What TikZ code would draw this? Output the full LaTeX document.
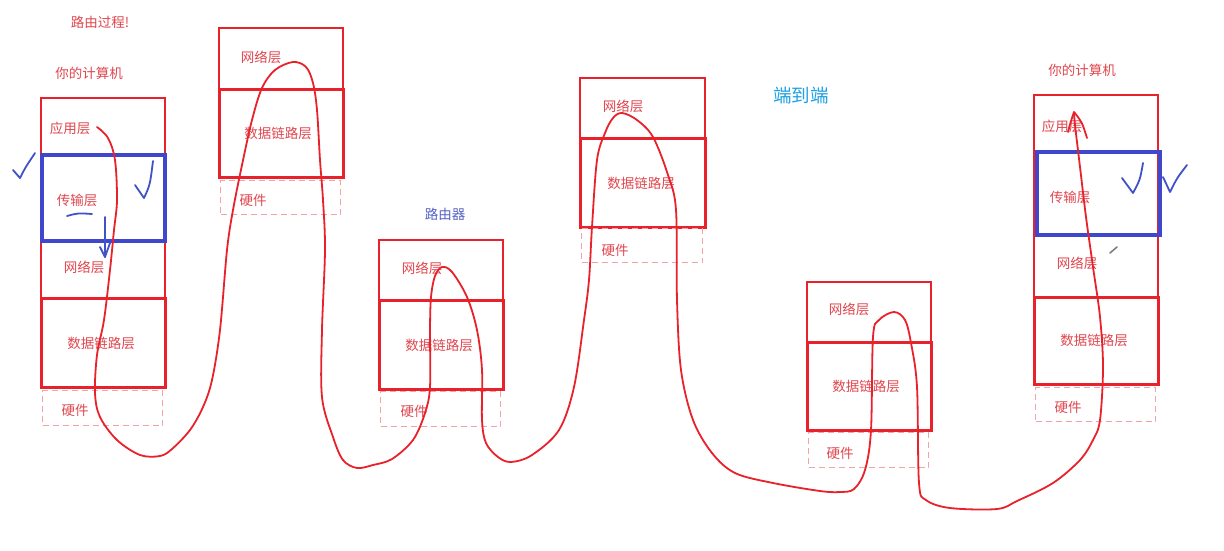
\documentclass[tikz,border=0pt]{standalone}
\usepackage{fontspec}
\newfontfamily\cjk{Noto Sans CJK SC}
\definecolor{boxred}{HTML}{E8212B}
\definecolor{txtred}{HTML}{E0474F}
\definecolor{hwred}{HTML}{F0A3A8}
\definecolor{bluebox}{HTML}{3F48CC}
\definecolor{penblue}{HTML}{4052C8}
\definecolor{routerblue}{HTML}{5563C4}
\definecolor{etoe}{HTML}{1BA1E2}
\begin{document}
\begin{tikzpicture}[x=1pt,y=-1pt,
  lay/.style={draw=boxred, line width=2.2pt, anchor=north west, inner sep=0pt},
  dlbox/.style={lay, line width=3.2pt},
  hwbox/.style={draw=hwred, dash pattern=on 6pt off 4pt, line width=1pt, anchor=north west, inner sep=0pt},
  tbox/.style={draw=bluebox, line width=4pt, anchor=north west, inner sep=0pt},
  lbl/.style={text=txtred, font=\cjk\fontsize{13.5}{14}\selectfont, inner sep=0pt},
  stroke/.style={draw=boxred, line width=1.8pt, line cap=round, line join=round},
  penline/.style={draw=penblue, line width=1.8pt, line cap=round, line join=round}]
\useasboundingbox[fill=white] (0,0) rectangle (1224,550);

% titles
\node[lbl] (title) at (100,22) {路由过程!};
\node[lbl] (pc1) at (89,73) {你的计算机};
\node[lbl] (pc2) at (1082,70) {你的计算机};
\node[text=routerblue, font=\cjk\fontsize{13.5}{14}\selectfont, inner sep=0pt] (rt) at (445,214) {路由器};
\node[text=etoe, font=\cjk\fontsize{18.5}{20}\selectfont, inner sep=0pt] (e2e) at (801,96) {端到端};

% left computer
\node[lay, minimum width=124pt, minimum height=289pt] (c1) at (40,97) {};
\node[dlbox, minimum width=124pt, minimum height=89pt] (c1d) at (40,297) {};
\node[tbox, minimum width=123pt, minimum height=86pt] (c1t) at (40,153) {};
\node[hwbox, minimum width=120pt, minimum height=35pt] (c1h) at (42,390) {};
\node[lbl] (c1a) at (70,128) {应用层};
\node[lbl] (c1tl) at (77,200) {传输层};
\node[lbl] (c1n) at (84,267) {网络层};
\node[lbl] (c1dl) at (101,343) {数据链路层};
\node[lbl] (c1hl) at (75,410) {硬件};

% router A
\node[lay, minimum width=124pt, minimum height=149pt] (ra) at (218,27) {};
\node[dlbox, minimum width=124pt, minimum height=88pt] (rad) at (218,88) {};
\node[hwbox, minimum width=120pt, minimum height=34pt] (rah) at (220,180) {};
\node[lbl] (ran) at (261,57) {网络层};
\node[lbl] (radl) at (278,133) {数据链路层};
\node[lbl] (rahl) at (253,200) {硬件};

% router B
\node[lay, minimum width=124pt, minimum height=149pt] (rb) at (378,239) {};
\node[dlbox, minimum width=124pt, minimum height=89pt] (rbd) at (378,299) {};
\node[hwbox, minimum width=120pt, minimum height=35pt] (rbh) at (380,391) {};
\node[lbl] (rbn) at (422,268) {网络层};
\node[lbl] (rbdl) at (439,345) {数据链路层};
\node[lbl] (rbhl) at (414,411) {硬件};

% router C
\node[lay, minimum width=125pt, minimum height=149pt] (rc) at (579,77) {};
\node[dlbox, minimum width=125pt, minimum height=89pt] (rcd) at (579,137) {};
\node[hwbox, minimum width=121pt, minimum height=34pt] (rch) at (581,228) {};
\node[lbl] (rcn) at (623,106) {网络层};
\node[lbl] (rcdl) at (641,183) {数据链路层};
\node[lbl] (rchl) at (615,250) {硬件};

% router D
\node[lay, minimum width=124pt, minimum height=148pt] (rd) at (806,281) {};
\node[dlbox, minimum width=124pt, minimum height=88pt] (rdd) at (806,341) {};
\node[hwbox, minimum width=120pt, minimum height=35pt] (rdh) at (808,432) {};
\node[lbl] (rdn) at (849,309) {网络层};
\node[lbl] (rddl) at (866,386) {数据链路层};
\node[lbl] (rdhl) at (840,453) {硬件};

% right computer
\node[lay, minimum width=124pt, minimum height=289pt] (c2) at (1033,94) {};
\node[dlbox, minimum width=124pt, minimum height=87pt] (c2d) at (1033,296) {};
\node[tbox, minimum width=123pt, minimum height=83pt] (c2t) at (1035,150) {};
\node[hwbox, minimum width=120pt, minimum height=34pt] (c2h) at (1035,387) {};
\node[lbl] (c2a) at (1062,126) {应用层};
\node[lbl] (c2tl) at (1070,197) {传输层};
\node[lbl] (c2n) at (1077,263) {网络层};
\node[lbl] (c2dl) at (1094,340) {数据链路层};
\node[lbl] (c2hl) at (1068,407) {硬件};

% the hand-drawn route
\draw[stroke] plot[smooth, tension=0.55] coordinates {
(97,127) (108,138) (115,160) (117,200) (114,230) (110,270) (104,320) (97,355) (95,393) (100,417) (117,440) (140,455) (160,456) (172,449) (190,430) (203,407) (212,380) (220,330) (227,250) (233,210) (242,165) (252,120) (262,88) (275,70) (293,62) (306,67) (313,83) (317,110) (320,160) (323,200) (325,250) (322,330) (322,397) (333,437) (343,460) (357,468) (373,465) (392,459) (413,440) (425,413) (430,387) (430,330) (431,297) (435,276) (442,267) (452,272) (467,297) (477,330) (482,370) (482,420) (486,443) (498,457) (511,462) (532,455) (559,430) (574,387) (584,320) (589,280) (592,227) (597,160) (605,133) (613,118) (622,113) (637,120) (653,137) (668,175) (676,210) (677,300) (681,370) (693,420) (712,453) (735,473) (773,483) (820,491) (840,492) (854,489) (865,470) (871,430) (873,337) (879,320) (894,312) (905,320) (911,343) (917,387) (919,483) (926,500) (950,508) (997,509) (1017,501) (1053,483) (1080,460) (1093,440) (1100,420) (1103,367) (1100,317) (1093,267) (1086,217) (1080,167) (1075,125) (1074,113)};
\coordinate (tipL) at (1068,132);
\coordinate (tip) at (1074,112);
\coordinate (tipR) at (1087,138);
\draw[stroke] (tipL) .. controls (1070,124) .. (tip) .. controls (1082,122) .. (tipR);

% blue pen marks
\draw[penline] (13,170) -- (20,178) .. controls (25,168) .. (35,153);
\draw[penline] (135,185) -- (144,198) .. controls (150,185) .. (153,161);
\draw[penline] (67,216) .. controls (78,213) .. (92,214);
\coordinate (a1) at (105,217);
\coordinate (a2) at (105,257);
\draw[penline] (a1) -- (a2);
\draw[penline] (100,247) -- (a2) -- (110,243);
\draw[penline] (1122,178) -- (1133,193) .. controls (1140,180) .. (1143,163);
\draw[penline] (1163,177) -- (1170,192) .. controls (1177,178) .. (1187,165);
% pencil cursor
\draw[gray, line width=1.6pt, line cap=round] (1110,253) -- (1117,247);
\end{tikzpicture}
\end{document}
